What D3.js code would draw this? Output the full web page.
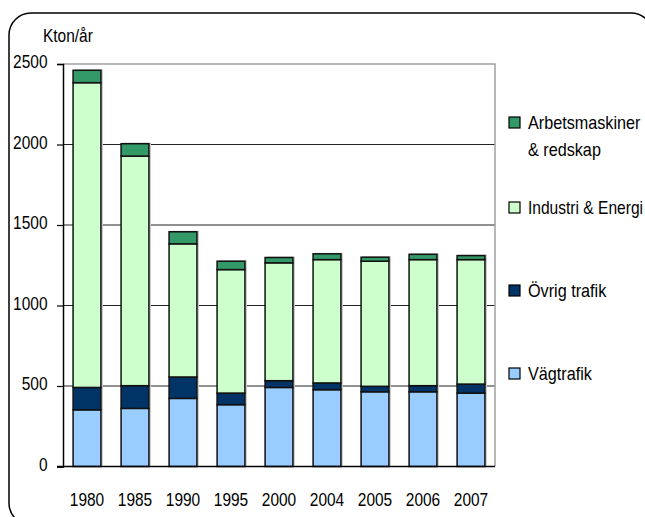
<!DOCTYPE html>
<html>
<head>
<meta charset="utf-8">
<script src="https://cdn.jsdelivr.net/npm/d3@7"></script>
<style>
  html, body { margin: 0; padding: 0; background: #fff; overflow: hidden; }
  svg { display: block; }
  text { font-family: "Liberation Sans", Arial, sans-serif; fill: #000; }
</style>
</head>
<body>
<svg id="chart" width="645" height="517"></svg>
<script>
// Emissions per source, kton per year
const years = ["1980", "1985", "1990", "1995", "2000", "2004", "2005", "2006", "2007"];
const vagtrafik = [352, 361, 423, 384, 491, 477, 464, 464, 456];
const ovrigTrafik = [139, 141, 133, 72, 42, 42, 34, 38, 56];
const industriEnergi = [1893, 1426, 827, 767, 732, 766, 777, 783, 773];
const arbetsmaskiner = [77, 77, 75, 52, 33, 36, 25, 33, 25];
const yTicks = [0, 500, 1000, 1500, 2000, 2500];

const seriesKeys = ["vag", "ovrig", "industri", "arbets"];
const seriesColors = { vag: "#99ccff", ovrig: "#003366", industri: "#ccffcc", arbets: "#339966" };
const legendItems = [
  { key: "arbets", lines: ["Arbetsmaskiner", "& redskap"], y: 123 },
  { key: "industri", lines: ["Industri & Energi"], y: 208 },
  { key: "ovrig", lines: ["Övrig trafik"], y: 291 },
  { key: "vag", lines: ["Vägtrafik"], y: 374 }
];

const FONT = 18;
const NARROW = 0.86;   // horizontal squeeze for a condensed look
const LEGEND_NARROW = 0.9;

const rows = years.map((yr, i) => ({
  year: yr,
  vag: vagtrafik[i],
  ovrig: ovrigTrafik[i],
  industri: industriEnergi[i],
  arbets: arbetsmaskiner[i]
}));

const svg = d3.select("#chart");
const plot = { left: 63, right: 495, top: 64, bottom: 466.5 };

function narrowText(parent, tx, ty, str, squeeze = NARROW) {
  return parent.append("text")
    .attr("transform", `translate(${tx},${ty}) scale(${squeeze},1)`)
    .attr("font-size", FONT)
    .text(str);
}

// Rounded outer frame
svg.append("rect")
  .attr("x", 9).attr("y", 13)
  .attr("width", 644).attr("height", 512)
  .attr("rx", 22).attr("ry", 22)
  .attr("fill", "none").attr("stroke", "#000").attr("stroke-width", 1.5);

const x = d3.scaleBand()
  .domain(years)
  .range([plot.left, plot.right])
  .paddingInner(0.42)
  .paddingOuter(0.21);

const y = d3.scaleLinear()
  .domain([0, 2500])
  .range([plot.bottom, plot.top]);

// Gridlines
svg.append("g")
  .selectAll("line")
  .data(yTicks.filter(t => t > 0 && t < 2500))
  .join("line")
  .attr("x1", plot.left).attr("x2", plot.right)
  .attr("y1", d => y(d)).attr("y2", d => y(d))
  .attr("stroke", "#222").attr("stroke-width", 1);

// Plot frame (top and right)
svg.append("path")
  .attr("d", `M${plot.left},${y(2500)}H${plot.right}V${plot.bottom}`)
  .attr("fill", "none").attr("stroke", "#a0a0a0").attr("stroke-width", 1.5);

const stacked = d3.stack().keys(seriesKeys)(rows);
const total = d => d.vag + d.ovrig + d.industri + d.arbets;

// Soft shadow behind each column
svg.append("g")
  .selectAll("rect")
  .data(rows)
  .join("rect")
  .attr("x", d => x(d.year) + 2)
  .attr("y", d => y(total(d)) - 1)
  .attr("width", x.bandwidth())
  .attr("height", d => plot.bottom - y(total(d)))
  .attr("fill", "#c8c8c8");

// Stacked bars
svg.append("g")
  .selectAll("g")
  .data(stacked)
  .join("g")
  .attr("fill", d => seriesColors[d.key])
  .selectAll("rect")
  .data(d => d)
  .join("rect")
  .attr("x", d => x(d.data.year))
  .attr("y", d => y(d[1]))
  .attr("width", x.bandwidth())
  .attr("height", d => y(d[0]) - y(d[1]))
  .attr("stroke", "#111").attr("stroke-width", 1.5);

// Y axis
const yAxis = svg.append("g")
  .attr("transform", `translate(${plot.left},0)`)
  .call(d3.axisLeft(y).tickValues(yTicks).tickSize(6).tickPadding(12).tickFormat(d3.format("d")));
yAxis.attr("font-family", null).attr("font-size", null);
yAxis.select(".domain").attr("stroke", "#000").attr("stroke-width", 1.5);
yAxis.selectAll(".tick line").attr("stroke", "#000").attr("stroke-width", 1.2);
yAxis.selectAll(".tick text")
  .attr("font-size", FONT)
  .attr("fill", "#000")
  .attr("dy", "0.22em")
  .attr("transform", `scale(${NARROW},1)`);

// X axis
const xAxis = svg.append("g")
  .attr("transform", `translate(0,${plot.bottom})`)
  .call(d3.axisBottom(x).tickSize(0).tickPadding(26).tickSizeOuter(0));
xAxis.attr("font-family", null).attr("font-size", null);
xAxis.select(".domain").attr("d", `M${plot.left - 6},0H${plot.right}`)
  .attr("stroke", "#000").attr("stroke-width", 1.5);
xAxis.selectAll(".tick text")
  .attr("font-size", FONT)
  .attr("fill", "#000")
  .attr("dy", "0.73em")
  .attr("transform", `scale(${NARROW},1)`);

// Unit label
narrowText(svg, 43, 42, "Kton/år");

// Legend
const legend = svg.append("g");
legendItems.forEach(item => {
  legend.append("rect")
    .attr("x", 509).attr("y", item.y - 6)
    .attr("width", 11).attr("height", 11)
    .attr("fill", seriesColors[item.key])
    .attr("stroke", "#000").attr("stroke-width", 1.2);
  item.lines.forEach((ln, j) => {
    const ty = item.y + 6 + j * 27;
    const t = narrowText(legend, 528, ty, ln, LEGEND_NARROW);
    // keep long labels inside the right edge
    const w = t.node().getComputedTextLength() * LEGEND_NARROW;
    const room = 643 - 528;
    if (w > room) t.attr("transform", `translate(528,${ty}) scale(${LEGEND_NARROW * room / w},1)`);
  });
});
</script>
</body>
</html>
